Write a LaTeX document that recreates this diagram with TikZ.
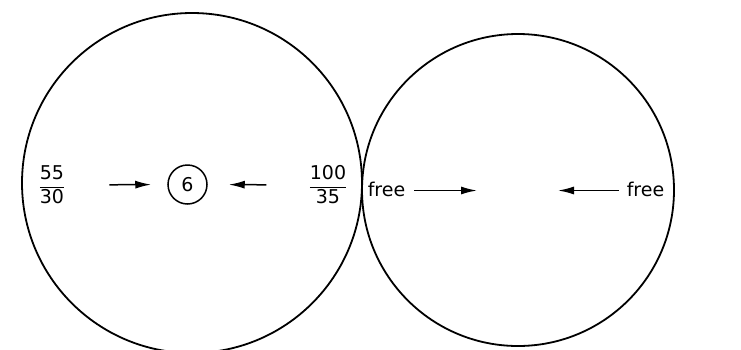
\documentclass[tikz,border=0pt]{standalone}
\usepackage{amsmath}
\usepackage{fontspec}
\setmainfont{DejaVu Sans}
\usepackage{tikz}
\usetikzlibrary{positioning, arrows.meta}

\begin{document}
\begin{tikzpicture}[x=1pt, y=-1pt, font=\fontsize{19}{22}\selectfont,
    ring/.style = {circle, draw, line width=1.8pt, inner sep=0pt},
    lbl/.style = {inner sep=0pt},
    arr/.style = {line width=1.5pt, -{Latex[length=16pt, width=8pt]}}]
                \useasboundingbox (0,0) rectangle (741,349);
                % the two big circles
                \node [ring, minimum size=340pt] (lc) at (192,183) {};
                \node [ring, minimum size=312pt] (rc) at (518,190) {};
                % left circle
                \node [ring, line width=1.5pt, minimum size=39pt] (six) at (187.5,184.5) {6};
                \node [lbl] (fa) at (52,185) {$\dfrac{\text{55}}{\text{30}}$};
                \node [lbl] (fb) at (328,185) {$\dfrac{\text{100}}{\text{35}}$};
                \draw [arr, shorten <=44pt, shorten >=16pt] (fa.east) -- (six.west);
                \draw [arr, shorten <=42pt, shorten >=21pt] (fb.west) -- (six.east);
                % right circle
                \node [lbl, anchor=base] (freea) at (386.5,196) {free};
                \node [lbl, anchor=base] (freeb) at (645.5,196) {free};
                \coordinate (ma) at (477,190.5);
                \coordinate (mb) at (558,190.5);
                \draw [arr, shorten <=9pt] (freea.east |- ma) -- (ma);
                \draw [arr, shorten <=8pt] (freeb.west |- mb) -- (mb);
            \end{tikzpicture}
\end{document}
